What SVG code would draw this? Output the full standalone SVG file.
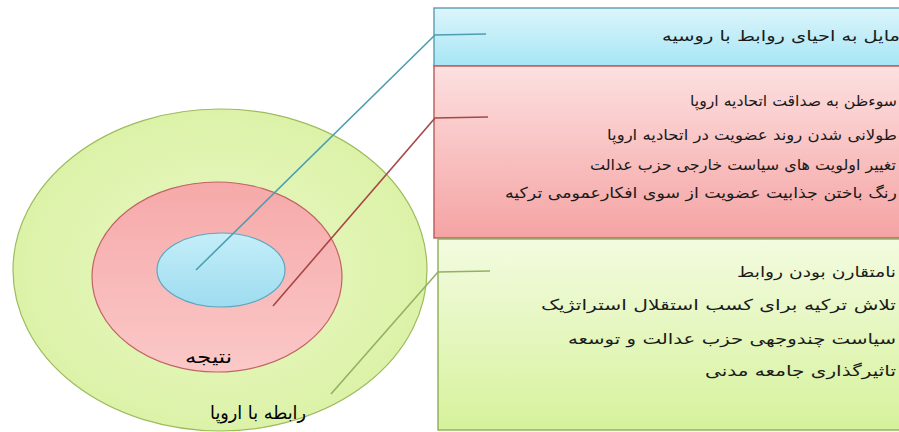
<svg xmlns="http://www.w3.org/2000/svg" width="899" height="432" viewBox="0 0 899 432">
<defs>
<linearGradient id="gBlue" x1="0" y1="0" x2="0" y2="1"><stop offset="0" stop-color="#dcf5fb"/><stop offset="1" stop-color="#a6e6f5"/></linearGradient>
<linearGradient id="gRed" x1="0" y1="0" x2="0" y2="1"><stop offset="0" stop-color="#fde0e0"/><stop offset="1" stop-color="#f5a3a3"/></linearGradient>
<linearGradient id="gGreen" x1="0" y1="0" x2="0" y2="1"><stop offset="0" stop-color="#f3fbe0"/><stop offset="1" stop-color="#d6f29c"/></linearGradient>
<radialGradient id="eGreen" cx="0.5" cy="0.5" r="0.5"><stop offset="0" stop-color="#eaf8c6"/><stop offset="1" stop-color="#dcf2a8"/></radialGradient>
<linearGradient id="eRed" x1="0" y1="0" x2="0" y2="1"><stop offset="0" stop-color="#f6a9a9"/><stop offset="1" stop-color="#fbc8c8"/></linearGradient>
<linearGradient id="eBlue" x1="0" y1="0" x2="0" y2="1"><stop offset="0" stop-color="#c4eef9"/><stop offset="1" stop-color="#9edcf0"/></linearGradient>
</defs>
<style>
.t{font-family:"DejaVu Sans","Noto Sans",sans-serif;font-size:15px;fill:#1a1a1a;}
.lbl{font-family:"DejaVu Sans","Noto Sans",sans-serif;font-size:18px;fill:#000;}
.conn{fill:none;stroke-width:1.6;}
</style>
<g id="ellipse-outer"><ellipse cx="220" cy="270" rx="207" ry="161" fill="url(#eGreen)" stroke="#9cbc5c" stroke-width="1.2"/></g>
<g id="ellipse-middle"><ellipse cx="217" cy="277" rx="125" ry="95" fill="url(#eRed)" stroke="#c06464" stroke-width="1.2"/></g>
<g id="ellipse-inner"><ellipse cx="221" cy="270" rx="64" ry="37" fill="url(#eBlue)" stroke="#5aa8c0" stroke-width="1.2"/></g>
<g id="box-blue">
<rect x="434" y="8" width="480" height="58" fill="url(#gBlue)" stroke="#5a9cb0" stroke-width="1.4"/>
<text class="t" x="662" y="41" textLength="238" lengthAdjust="spacingAndGlyphs">مایل به احیای روابط با روسیه</text>
</g>
<g id="box-red">
<rect x="434" y="66" width="480" height="172" fill="url(#gRed)" stroke="#b85a5a" stroke-width="1.4"/>
<text class="t" x="690" y="106" textLength="207" lengthAdjust="spacingAndGlyphs">سوءظن به صداقت اتحادیه اروپا</text>
<text class="t" x="607" y="140" textLength="290" lengthAdjust="spacingAndGlyphs">طولانی شدن روند عضویت در اتحادیه اروپا</text>
<text class="t" x="590" y="170" textLength="306" lengthAdjust="spacingAndGlyphs">تغییر اولویت های سیاست خارجی حزب عدالت</text>
<text class="t" x="505" y="198" textLength="392" lengthAdjust="spacingAndGlyphs">رنگ باختن جذابیت عضویت از سوی افکارعمومی ترکیه</text>
</g>
<g id="box-green">
<rect x="438" y="239" width="476" height="191" fill="url(#gGreen)" stroke="#8eac58" stroke-width="1.4"/>
<text class="t" x="737" y="277" textLength="159" lengthAdjust="spacingAndGlyphs">نامتقارن بودن روابط</text>
<text class="t" x="541" y="310" textLength="355" lengthAdjust="spacingAndGlyphs">تلاش ترکیه برای کسب استقلال استراتژیک</text>
<text class="t" x="568" y="344" textLength="328" lengthAdjust="spacingAndGlyphs">سیاست چندوجهی حزب عدالت و توسعه</text>
<text class="t" x="705" y="376" textLength="191" lengthAdjust="spacingAndGlyphs">تاثیرگذاری جامعه مدنی</text>
</g>
<g id="label-result"><text class="lbl" x="185" y="363" textLength="47" lengthAdjust="spacingAndGlyphs">نتیجه</text></g>
<g id="label-europe"><text class="lbl" x="210" y="419" textLength="96" lengthAdjust="spacingAndGlyphs">رابطه با اروپا</text></g>
<g id="connectors">
<polyline class="conn" points="196,270 435,35 486,34" stroke="#4c9fb0"/>
<polyline class="conn" points="273,306 435,118 488,117" stroke="#a84646"/>
<polyline class="conn" points="331,394 438,272 490,271" stroke="#92b262"/>
</g>
</svg>
